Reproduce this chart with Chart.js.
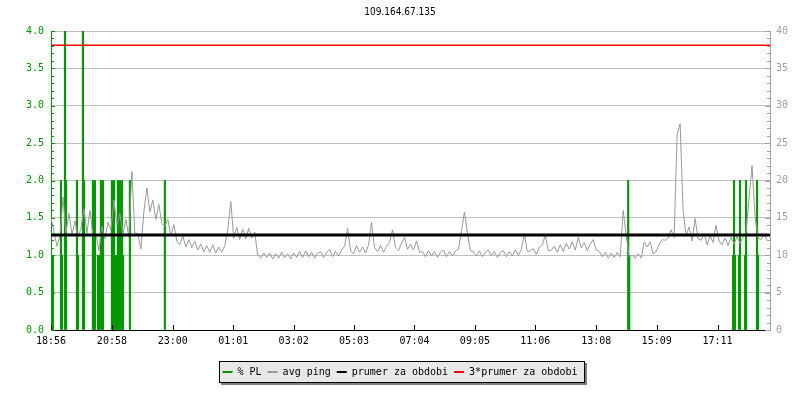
<!DOCTYPE html>
<html>
<head>
<meta charset="utf-8">
<title>109.164.67.135</title>
<script src="https://cdn.jsdelivr.net/npm/chart.js@4.4.1/dist/chart.umd.min.js"></script>
<style>
    html, body { margin: 0; padding: 0; background: #fff; }
    #wrap { width: 800px; height: 400px; }
</style>
</head>
<body>
<div id="wrap"><canvas id="pingChart" width="800" height="400"></canvas></div>
<script>
// x axis = minutes since 18:56, one day window
const timeSpan = 1440;
const tickMinutes = [0, 122, 244, 365, 486, 607, 728, 849, 970, 1092, 1213, 1335];
const tickLabels = ['18:56', '20:58', '23:00', '01:01', '03:02', '05:03',
                    '07:04', '09:05', '11:06', '13:08', '15:09', '17:11'];

// avg ping [ms], one sample every 6 minutes
const pingStep = 6;
const pingAvg = [
    15.0, 13.2, 11.2, 12.6, 17.8, 13.0, 15.6, 12.8, 14.6, 12.4,
    13.6, 16.2, 13.0, 16.0, 12.6, 12.8, 10.6, 13.8, 12.2, 14.4,
    13.4, 17.4, 14.0, 15.6, 12.8, 14.8, 12.4, 21.2, 13.0, 12.9,
    10.8, 15.8, 19.0, 15.8, 17.4, 14.8, 16.8, 14.2, 13.9, 14.8,
    12.6, 14.1, 11.9, 11.4, 12.6, 11.1, 12.1, 11.0, 11.9, 10.7,
    11.5, 10.5, 11.3, 10.4, 11.4, 10.3, 11.1, 10.4, 11.2, 13.4,
    17.2, 12.3, 13.7, 12.1, 13.5, 12.2, 13.6, 12.3, 13.1, 10.0,
    9.6, 10.3, 9.7, 10.3, 9.5, 10.2, 9.6, 10.4, 9.7, 10.2,
    9.5, 10.3, 9.7, 10.5, 9.7, 10.6, 9.8, 10.4, 9.6, 10.3,
    10.5, 9.7, 10.4, 10.8, 9.8, 10.5, 9.9, 10.7, 11.2, 13.6,
    10.6, 10.2, 11.3, 10.4, 11.1, 10.3, 11.4, 14.4, 11.0, 10.5,
    11.3, 10.4, 11.2, 11.7, 13.4, 11.0, 10.6, 11.6, 12.4, 10.8,
    11.5, 10.7, 11.9, 10.4, 10.5, 9.8, 10.6, 9.9, 10.5, 9.7,
    10.4, 10.7, 9.8, 10.5, 9.9, 10.6, 10.8, 13.2, 15.8, 13.0,
    10.6, 10.5, 9.9, 10.6, 9.8, 10.4, 10.7, 9.9, 10.5, 9.7,
    10.4, 10.6, 9.8, 10.5, 9.9, 10.7, 10.0, 10.8, 12.9, 10.5,
    10.6, 10.9, 10.1, 11.1, 11.4, 12.7, 10.6, 10.7, 11.2, 10.4,
    11.4, 10.5, 11.6, 10.8, 11.8, 10.7, 12.4, 11.0, 11.7, 10.6,
    11.5, 12.1, 10.7, 10.5, 9.8, 10.4, 9.6, 10.3, 9.7, 10.4,
    9.8, 16.0, 12.6, 9.8, 10.0, 9.6, 10.2, 9.6, 11.8, 11.1,
    11.8, 10.2, 10.5, 11.4, 12.1, 12.0, 12.3, 13.4, 12.4, 26.2,
    27.6, 16.0, 12.6, 13.8, 11.9, 14.9, 12.2, 12.0, 12.9, 11.4,
    12.6, 11.7, 14.0, 11.9, 11.4, 12.3, 11.3, 12.4, 11.5, 12.5,
    11.6, 12.4, 13.2, 17.5, 22.0, 15.2, 12.3, 12.1, 12.8, 12.0
];

// packet loss [%], only the non-zero samples
const plMinutes = [4, 20, 22, 28, 30, 52, 54, 64, 66, 84, 86, 88, 94, 96, 100, 102, 104,
                   122, 124, 126, 128, 132, 134, 138, 142, 144, 158, 228,
                   1156, 1158, 1366, 1368, 1370, 1378, 1380, 1390, 1392, 1414, 1416];
const plValues  = [1, 2, 1, 5, 2, 2, 1, 5, 2, 2, 1, 2, 1, 1, 2, 1, 2,
                   2, 1, 2, 1, 1, 2, 2, 2, 1, 2, 2,
                   2, 1, 1, 2, 1, 1, 2, 1, 2, 2, 1];

const pingMean = 12.7;

const GREEN = '#009900';
const GREY = '#a0a0a0';
const MONO = "'DejaVu Sans Mono', monospace";

// small tick marks drawn inside the plot, like the rrd graph does
const axisTicks = {
    id: 'axisTicks',
    afterDatasetsDraw(chart) {
        const { ctx, chartArea: a, scales } = chart;
        ctx.save();
        ctx.lineWidth = 1;

        ctx.strokeStyle = GREEN;
        for (let k = 0; k <= 40; k++) {
            const y = Math.round(scales.y.getPixelForValue(k / 10)) + 0.5;
            const len = k % 5 === 0 ? 4 : 3;
            ctx.beginPath();
            ctx.moveTo(a.left, y);
            ctx.lineTo(a.left + len, y);
            ctx.stroke();
        }

        ctx.strokeStyle = GREY;
        for (let k = 0; k <= 40; k++) {
            const y = Math.round(scales.y1.getPixelForValue(k)) + 0.5;
            const len = k % 5 === 0 ? 5 : 3;
            ctx.beginPath();
            ctx.moveTo(a.right, y);
            ctx.lineTo(a.right - len, y);
            ctx.stroke();
        }

        ctx.strokeStyle = '#000';
        tickMinutes.forEach(m => {
            const x = Math.round(scales.x.getPixelForValue(m)) + 0.5;
            ctx.beginPath();
            ctx.moveTo(x, a.bottom);
            ctx.lineTo(x, a.bottom - 5);
            ctx.stroke();
        });
        ctx.restore();
    }
};

// grey box with a drop shadow behind the legend
const legendFrame = {
    id: 'legendFrame',
    beforeDraw(chart) {
        const boxes = chart.legend && chart.legend.legendHitBoxes;
        if (!boxes || !boxes.length) return;
        const ctx = chart.ctx;
        const left = Math.round(Math.min(...boxes.map(b => b.left))) - 4;
        const right = Math.round(Math.max(...boxes.map(b => b.left + b.width))) + 8;
        const top = Math.round(boxes[0].top) - 6;
        const bottom = Math.round(boxes[0].top + boxes[0].height) + 6;
        ctx.save();
        ctx.fillStyle = '#808080';
        ctx.fillRect(left + 2, top + 2, right - left, bottom - top);
        ctx.fillStyle = '#e8e8e8';
        ctx.fillRect(left, top, right - left, bottom - top);
        ctx.strokeStyle = '#000';
        ctx.lineWidth = 1;
        ctx.strokeRect(left + 0.5, top + 0.5, right - left - 1, bottom - top - 1);
        ctx.restore();
    }
};

document.addEventListener('DOMContentLoaded', () => {
    const ctx = document.getElementById('pingChart');

    new Chart(ctx, {
        type: 'line',
        data: {
            datasets: [
                {
                    type: 'bar',
                    label: '% PL',
                    yAxisID: 'y',
                    data: plMinutes.map((m, i) => ({ x: m, y: plValues[i] })),
                    backgroundColor: GREEN,
                    borderWidth: 0,
                    barThickness: 1.5,
                    legendColor: GREEN,
                    order: 4
                },
                {
                    label: 'avg ping',
                    yAxisID: 'y1',
                    data: pingAvg.map((v, i) => ({ x: i * pingStep, y: v })),
                    borderColor: '#999999',
                    borderWidth: 1,
                    pointRadius: 0,
                    tension: 0,
                    legendColor: '#999999',
                    order: 3
                },
                {
                    label: 'prumer za obdobi',
                    yAxisID: 'y1',
                    data: [{ x: 0, y: pingMean }, { x: timeSpan, y: pingMean }],
                    borderColor: '#000000',
                    borderWidth: 3,
                    pointRadius: 0,
                    legendColor: '#000000',
                    order: 2
                },
                {
                    label: '3*prumer za obdobi',
                    yAxisID: 'y1',
                    data: [{ x: 0, y: 3 * pingMean }, { x: timeSpan, y: 3 * pingMean }],
                    borderColor: '#ff0000',
                    borderWidth: 1.5,
                    pointRadius: 0,
                    legendColor: '#ff0000',
                    order: 1
                }
            ]
        },
        options: {
            responsive: false,
            animation: false,
            events: [],
            layout: { padding: { left: 0, right: 0, top: 0, bottom: 13 } },
            scales: {
                x: {
                    type: 'linear',
                    min: 0,
                    max: timeSpan,
                    offset: false,
                    afterBuildTicks: scale => {
                        scale.ticks = tickMinutes.map(v => ({ value: v }));
                    },
                    afterFit: scale => { scale.height = 31; },
                    ticks: {
                        autoSkip: false,
                        maxRotation: 0,
                        padding: 5,
                        color: '#000',
                        font: { family: MONO, size: 10 },
                        callback: (value, index) => tickLabels[index]
                    },
                    grid: { display: false, drawTicks: false },
                    border: { display: true, color: '#000', width: 1 }
                },
                y: {
                    position: 'left',
                    min: 0,
                    max: 4,
                    afterFit: scale => { scale.width = 51; },
                    ticks: {
                        stepSize: 0.5,
                        padding: 7,
                        color: GREEN,
                        font: { family: MONO, size: 10 },
                        callback: v => v.toFixed(1)
                    },
                    grid: { color: '#c0c0c0', drawTicks: false },
                    border: { color: GREEN, width: 1 }
                },
                y1: {
                    position: 'right',
                    min: 0,
                    max: 40,
                    afterFit: scale => { scale.width = 30; },
                    ticks: {
                        stepSize: 5,
                        padding: 6,
                        color: GREY,
                        font: { family: MONO, size: 10 }
                    },
                    grid: { display: false, drawTicks: false },
                    border: { color: GREY, width: 1 }
                }
            },
            plugins: {
                title: {
                    display: true,
                    text: '109.164.67.135',
                    color: '#000',
                    font: { family: "'Liberation Sans Narrow', 'DejaVu Sans Condensed', sans-serif", size: 10, weight: 'normal' },
                    padding: { top: 6, bottom: 13 }
                },
                legend: {
                    position: 'bottom',
                    labels: {
                        boxWidth: 10,
                        boxHeight: 2,
                        padding: 6,
                        color: '#000',
                        font: { family: MONO, size: 10 },
                        generateLabels: chart => chart.data.datasets.map((ds, i) => ({
                            text: ds.label,
                            fillStyle: ds.legendColor,
                            strokeStyle: ds.legendColor,
                            lineWidth: 0,
                            hidden: false,
                            datasetIndex: i
                        }))
                    }
                },
                tooltip: { enabled: false }
            }
        },
        plugins: [legendFrame, axisTicks]
    });
});
</script>
</body>
</html>
